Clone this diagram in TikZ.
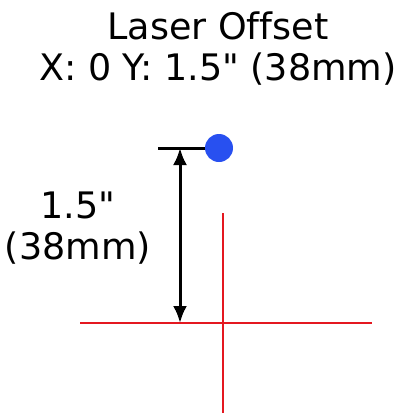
\documentclass[tikz,border=0pt]{standalone}
\usepackage{fontspec}
\setmainfont{DejaVu Sans}[Ligatures={TeXOff,NoCommon}]
\usetikzlibrary{arrows.meta}
\definecolor{laserblue}{RGB}{40,80,240}
\definecolor{crossred}{RGB}{228,24,32}
\begin{document}
\begin{tikzpicture}[
    x=1pt, y=-1pt,
    font=\fontsize{36.5}{41}\selectfont,
    label/.style={align=center, inner sep=0pt},
    cross/.style={crossred, line width=2.8pt},
    dim/.style={{Latex[length=17pt,width=14pt]}-{Latex[length=17pt,width=14pt]}, line width=3pt},
    tick/.style={line width=3pt}
    ]
\useasboundingbox (0,0) rectangle (404,413);

% Title
\node[label] (title) at (218,49) {Laser Offset\\X: 0 Y: 1.5" (38mm)};

% Laser spot
\node[circle, fill=laserblue, minimum size=28pt, inner sep=0pt] (laser) at (219,148) {};
\coordinate (tickend) at (158,148);
\draw[tick] (laser.west) -- (tickend);

% Crosshair
\coordinate (hleft)  at (80,323);
\coordinate (hright) at (372,323);
\coordinate (vtop)   at (223,213);
\coordinate (vbot)   at (223,413);
\draw[cross] (hleft) -- (hright);
\draw[cross] (vtop) -- (vbot);

% Dimension
\coordinate (dtop) at (180,148);
\coordinate (dbot) at (180,323);
\draw[dim] (dtop) -- (dbot);
\node[label] (dist) at (78,228) {1.5"\\(38mm)};

\end{tikzpicture}
\end{document}
